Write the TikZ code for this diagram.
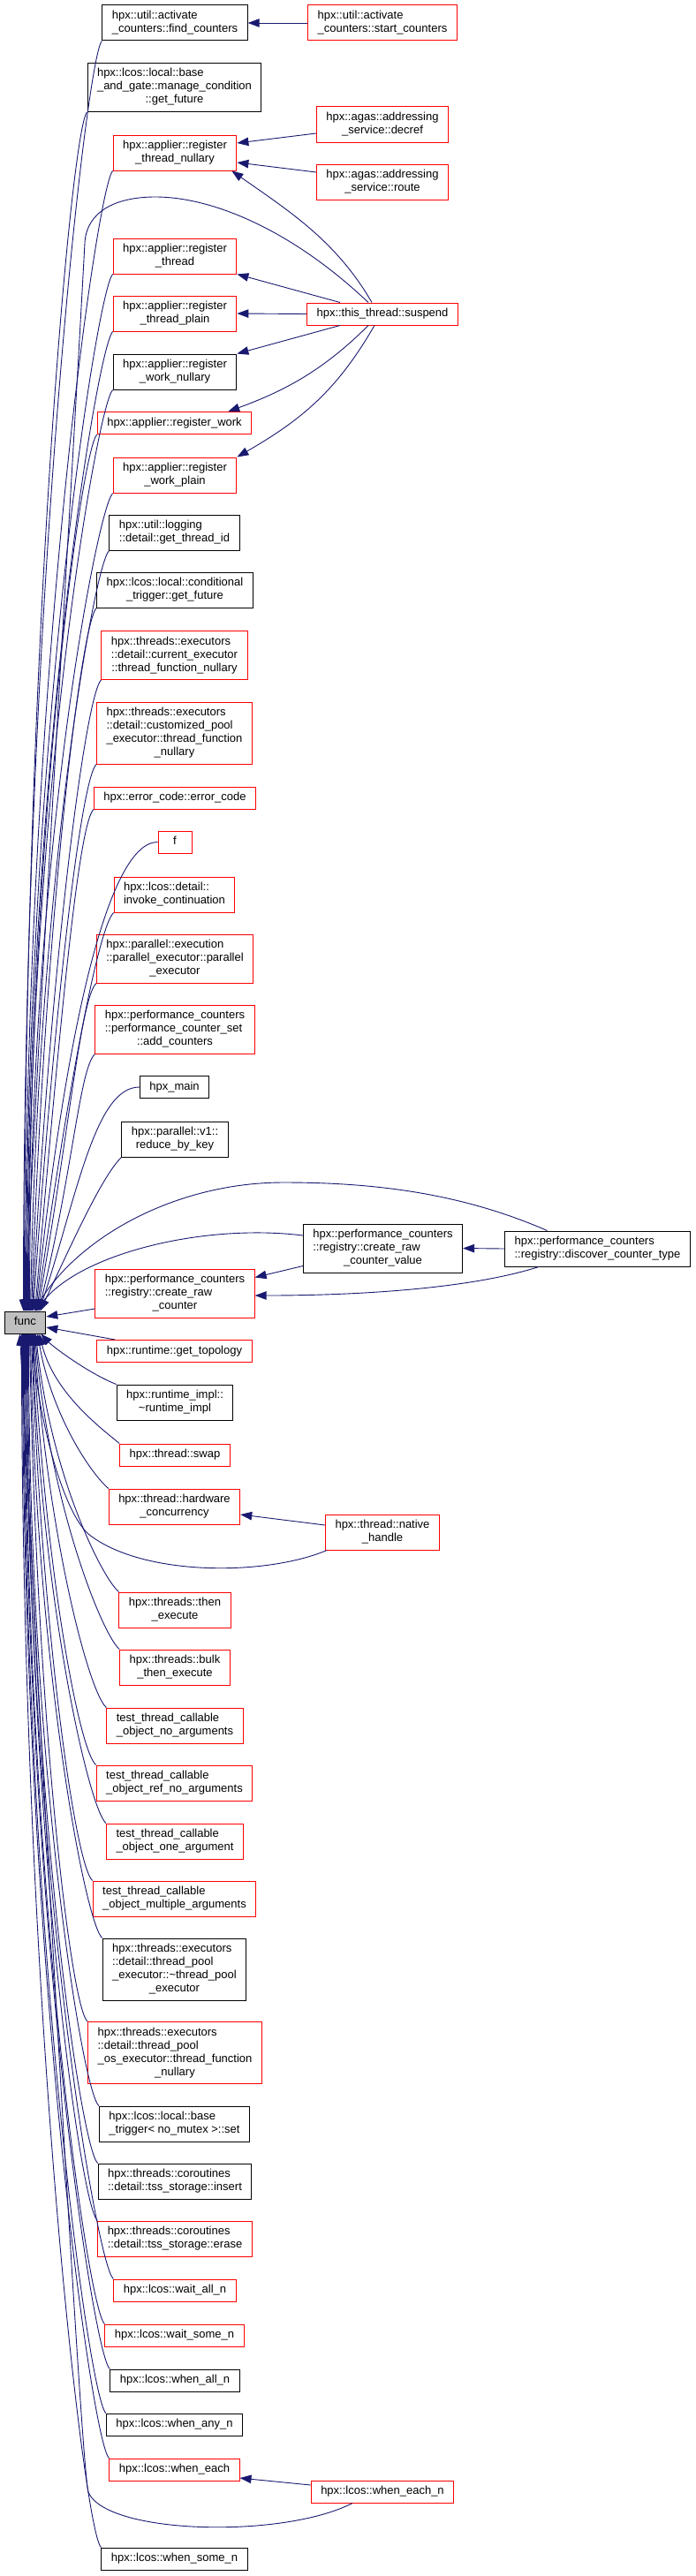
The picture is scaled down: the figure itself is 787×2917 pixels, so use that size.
\documentclass[tikz,border=0pt]{standalone}
\usepackage{fontspec}
\setmainfont{Liberation Sans}
\usetikzlibrary{arrows.meta}
\definecolor{edgeblue}{HTML}{191970}
\definecolor{boxred}{HTML}{FF0000}
\definecolor{curgray}{HTML}{BFBFBF}
\newcommand{\fnlabel}[2]{\begin{tabular}{@{}l@{}}#1\multicolumn{1}{@{}c@{}}{#2}\end{tabular}}

\begin{document}
\begin{tikzpicture}[x=1pt, y=1pt,
  fnbox/.style={draw, line width=1pt, inner xsep=11pt, inner ysep=5pt,
    font=\fontsize{13}{15}\selectfont},
  redfn/.style={fnbox, draw=boxred},
  blkfn/.style={fnbox, draw=black},
  curfn/.style={fnbox, draw=black, fill=curgray},
  call/.style={draw=edgeblue, line width=0.9pt,
    -{Triangle[length=13pt, width=9.5pt]}}]
  \useasboundingbox (0,0) rectangle (787,-2917);

  \node[blkfn] (findc) at (198,-26) {\fnlabel{hpx::util::activate\\}{\_counters::find\_counters}};
  \node[redfn] (startc) at (433,-26) {\fnlabel{hpx::util::activate\\}{\_counters::start\_counters}};
  \node[blkfn] (mcond) at (197.5,-99) {\fnlabel{hpx::lcos::local::base\\\_and\_gate::manage\_condition\\}{::get\_future}};
  \node[redfn] (decref) at (433,-141) {\fnlabel{hpx::agas::addressing\\}{\_service::decref}};
  \node[redfn] (rtnul) at (198,-173) {\fnlabel{hpx::applier::register\\}{\_thread\_nullary}};
  \node[redfn] (route) at (433,-206) {\fnlabel{hpx::agas::addressing\\}{\_service::route}};
  \node[redfn] (rthr) at (198,-290) {\fnlabel{hpx::applier::register\\}{\_thread}};
  \node[redfn] (susp) at (433,-355.5) {\fnlabel{}{hpx::this\_thread::suspend}};
  \node[redfn] (rtpl) at (198,-355) {\fnlabel{hpx::applier::register\\}{\_thread\_plain}};
  \node[blkfn] (rwnul) at (198,-421) {\fnlabel{hpx::applier::register\\}{\_work\_nullary}};
  \node[redfn] (rwork) at (197.5,-479) {\fnlabel{}{hpx::applier::register\_work}};
  \node[redfn] (rwpl) at (198,-538) {\fnlabel{hpx::applier::register\\}{\_work\_plain}};
  \node[blkfn] (gtid) at (197.5,-603) {\fnlabel{hpx::util::logging\\}{::detail::get\_thread\_id}};
  \node[blkfn] (ctrig) at (198,-668) {\fnlabel{hpx::lcos::local::conditional\\}{\_trigger::get\_future}};
  \node[redfn] (curex) at (197.5,-742) {\fnlabel{hpx::threads::executors\\::detail::current\_executor\\}{::thread\_function\_nullary}};
  \node[redfn] (cpool) at (197.5,-830) {\fnlabel{hpx::threads::executors\\::detail::customized\_pool\\\_executor::thread\_function\\}{\_nullary}};
  \node[redfn] (ecode) at (198,-903.5) {\fnlabel{}{hpx::error\_code::error\_code}};
  \node[redfn, minimum width=38pt] (f) at (198,-953.5) {\fnlabel{}{f}};
  \node[redfn] (invk) at (197.5,-1013) {\fnlabel{hpx::lcos::detail::\\}{invoke\_continuation}};
  \node[redfn] (parex) at (198,-1085.5) {\fnlabel{hpx::parallel::execution\\::parallel\_executor::parallel\\}{\_executor}};
  \node[redfn] (addc) at (198,-1165.5) {\fnlabel{hpx::performance\_counters\\::performance\_counter\_set\\}{::add\_counters}};
  \node[blkfn] (hmain) at (197.5,-1231) {\fnlabel{}{hpx\_main}};
  \node[blkfn] (rbk) at (198,-1290) {\fnlabel{hpx::parallel::v1::\\}{reduce\_by\_key}};
  \node[blkfn] (crcv) at (433.5,-1413.5) {\fnlabel{hpx::performance\_counters\\::registry::create\_raw\\}{\_counter\_value}};
  \node[blkfn] (dct) at (676.5,-1414) {\fnlabel{hpx::performance\_counters\\}{::registry::discover\_counter\_type}};
  \node[redfn] (crc) at (198,-1464.5) {\fnlabel{hpx::performance\_counters\\::registry::create\_raw\\}{\_counter}};
  \node[curfn] (func) at (28.5,-1497.5) {\fnlabel{}{func}};
  \node[redfn] (topo) at (197.5,-1530) {\fnlabel{}{hpx::runtime::get\_topology}};
  \node[blkfn] (rtimpl) at (198,-1588) {\fnlabel{hpx::runtime\_impl::\\}{\textasciitilde runtime\_impl}};
  \node[redfn] (swap) at (198,-1647.5) {\fnlabel{}{hpx::thread::swap}};
  \node[redfn] (hwc) at (197.5,-1706) {\fnlabel{hpx::thread::hardware\\}{\_concurrency}};
  \node[redfn] (nhand) at (433,-1735) {\fnlabel{hpx::thread::native\\}{\_handle}};
  \node[redfn] (thenx) at (198,-1823) {\fnlabel{hpx::threads::then\\}{\_execute}};
  \node[redfn] (bthen) at (198,-1888) {\fnlabel{hpx::threads::bulk\\}{\_then\_execute}};
  \node[redfn] (tnoarg) at (198,-1954) {\fnlabel{test\_thread\_callable\\}{\_object\_no\_arguments}};
  \node[redfn] (trefno) at (197.5,-2019) {\fnlabel{test\_thread\_callable\\}{\_object\_ref\_no\_arguments}};
  \node[redfn] (tone) at (198,-2085) {\fnlabel{test\_thread\_callable\\}{\_object\_one\_argument}};
  \node[redfn] (tmult) at (197.5,-2150) {\fnlabel{test\_thread\_callable\\}{\_object\_multiple\_arguments}};
  \node[blkfn] (tpex) at (197.5,-2230) {\fnlabel{hpx::threads::executors\\::detail::thread\_pool\\\_executor::\textasciitilde thread\_pool\\}{\_executor}};
  \node[redfn] (tpos) at (198,-2324.5) {\fnlabel{hpx::threads::executors\\::detail::thread\_pool\\\_os\_executor::thread\_function\\}{\_nullary}};
  \node[blkfn] (btrig) at (197.5,-2405) {\fnlabel{hpx::lcos::local::base\\}{\_trigger< no\_mutex >::set}};
  \node[blkfn] (tssins) at (198,-2470) {\fnlabel{hpx::threads::coroutines\\}{::detail::tss\_storage::insert}};
  \node[redfn] (tsser) at (198,-2535) {\fnlabel{hpx::threads::coroutines\\}{::detail::tss\_storage::erase}};
  \node[redfn] (waitall) at (198,-2593.5) {\fnlabel{}{hpx::lcos::wait\_all\_n}};
  \node[redfn] (waitsome) at (197.5,-2644.5) {\fnlabel{}{hpx::lcos::wait\_some\_n}};
  \node[blkfn] (whenall) at (198,-2695.5) {\fnlabel{}{hpx::lcos::when\_all\_n}};
  \node[blkfn] (whenany) at (197.5,-2745.5) {\fnlabel{}{hpx::lcos::when\_any\_n}};
  \node[redfn] (wheneach) at (197.5,-2796.5) {\fnlabel{}{hpx::lcos::when\_each}};
  \node[redfn] (wheneachn) at (433,-2821.5) {\fnlabel{}{hpx::lcos::when\_each\_n}};
  \node[blkfn] (whensome) at (197.5,-2897.5) {\fnlabel{}{hpx::lcos::when\_some\_n}};

  \foreach \n/\an/\o/\od/\a/\id/\dx in {findc/south west/225/25/90/790/-2, mcond/south west/225/25/90/750/-1,
      rtnul/south west/225/25/90/710/0, rthr/south west/225/25/90/645/1, rtpl/south west/225/25/90/610/2,
      rwnul/south west/225/25/90/575/3, rwork/south west/225/25/90/545/4, rwpl/south west/225/25/90/510/5,
      gtid/south west/225/25/89/475/6, ctrig/south west/225/25/88/440/7, curex/south west/225/25/87/395/8,
      cpool/south west/225/25/86/340/9, ecode/south west/225/25/85/315/11, f/west/180/60/84/290/12,
      invk/south west/225/25/82/250/13, parex/south west/225/25/80/205/14, addc/south west/225/25/76/160/15,
      hmain/west/180/50/72/140/16, rbk/south west/225/30/65/95/17}
    \draw[call] (\n.\an) .. controls +(\o:\od) and +(\a:\id) .. ([xshift=\dx pt]func.north);

  \foreach \n/\a/\id/\dx in {swap/-76/70/16, hwc/-80/95/14, thenx/-84/160/12, bthen/-85/195/11,
      tnoarg/-86/235/10, trefno/-87/270/9, tone/-88/305/8, tmult/-88/340/7, tpex/-89/375/6,
      tpos/-89/430/5, btrig/-90/480/4, tssins/-90/515/3, tsser/-90/555/2, waitall/-90/590/1,
      waitsome/-90/615/0, whenall/-90/645/-1, whenany/-90/670/-2, wheneach/-90/700/-3,
      whensome/-90/755/-4}
    \draw[call] (\n.north west) .. controls +(140:25) and +(\a:\id) .. ([xshift=\dx pt]func.south);

  \draw[call] (startc.west) -- (findc.east);
  \draw[call] ([yshift=-10]decref.west) -- ([yshift=11]rtnul.east);
  \draw[call] ([yshift=11]route.west) -- ([yshift=-11]rtnul.east);
  \draw[call] ([xshift=-12]susp.north) .. controls +(120:80) and +(-35:80) .. ([xshift=-6]rtnul.south east);
  \draw[call] ([xshift=-16]susp.north) .. controls (330,-260) and (240,-223) .. (176,-223)
    .. controls (130,-223) and (98,-240) .. (96,-275)
    .. controls (80,-575) and (35,-1300) .. ([xshift=1]func.north);
  \draw[call] ([xshift=-48]susp.north) -- (rthr.south east);
  \draw[call] (susp.west) -- (rtpl.east);
  \draw[call] ([xshift=-48]susp.south) -- (rwnul.north east);
  \draw[call] ([xshift=-16]susp.south) .. controls +(-135:70) and +(20:70) .. ([xshift=-27]rwork.north east);
  \draw[call] ([xshift=-9]susp.south) .. controls +(-120:85) and +(30:85) .. (rwpl.north east);

  \draw[call] (dct.west) -- (crcv.east);
  \draw[call] ([xshift=-66.5]dct.south) .. controls (530,-1460) and (400,-1467) .. ([yshift=-2.5]crc.east);
  \draw[call] ([xshift=-57]dct.north) .. controls (520,-1350) and (420,-1339) .. (321,-1339)
    .. controls (200,-1339) and (90,-1400) .. ([xshift=10]func.north);
  \draw[call] ([yshift=-20]crcv.west) -- ([yshift=18]crc.east);
  \draw[call] ([yshift=14.5]crcv.west) .. controls (230,-1385) and (90,-1420) .. ([xshift=12]func.north);
  \draw[call] ([yshift=-17.5]crc.west) -- ([yshift=6.5]func.east);
  \draw[call] ([xshift=21]topo.north west) -- ([yshift=-5.5]func.east);
  \draw[call] (rtimpl.north west) .. controls (100,-1555) and (60,-1525) .. ([xshift=-6]func.south east);

  \draw[call] ([yshift=8]nhand.west) -- ([yshift=-9]hwc.east);
  \draw[call] ([xshift=2]nhand.south west) .. controls (300,-1785) and (160,-1785) .. (100,-1737)
    .. controls (70,-1710) and (42,-1600) .. ([xshift=8]func.south);
  \draw[call] ([yshift=7.5]wheneachn.west) -- ([yshift=-9.5]wheneach.east);
  \draw[call] ([xshift=-34]wheneachn.south) .. controls (320,-2875) and (120,-2870) .. (100,-2822)
    .. controls (92,-2800) and (42,-1900) .. ([xshift=-6]func.south);
\end{tikzpicture}
\end{document}
